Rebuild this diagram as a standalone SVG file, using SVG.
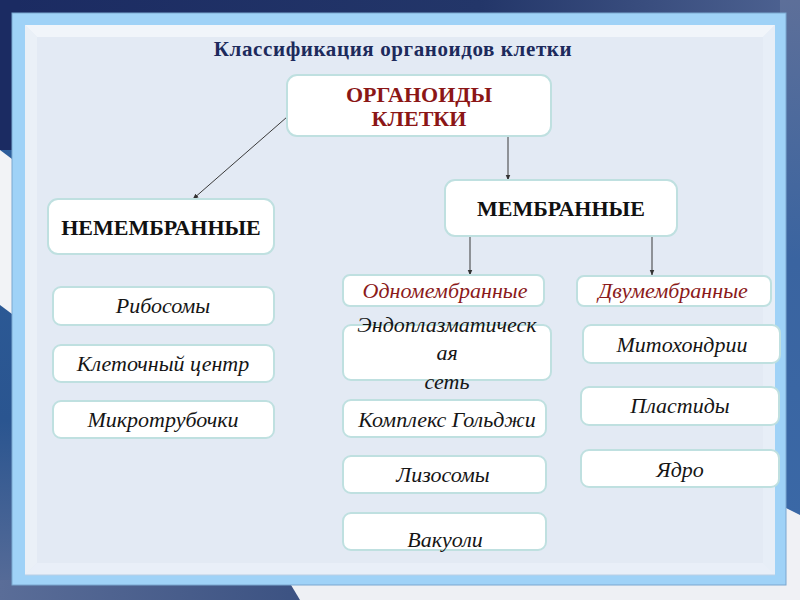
<svg xmlns="http://www.w3.org/2000/svg" width="800" height="600" viewBox="0 0 800 600">
<defs>
<linearGradient id="bgTop" x1="0" y1="0" x2="1" y2="0">
<stop offset="0" stop-color="#1b2b62"/><stop offset="0.6" stop-color="#233669"/><stop offset="1" stop-color="#4e6392"/>
</linearGradient>
<linearGradient id="bgLeft" x1="0" y1="0" x2="0" y2="1">
<stop offset="0" stop-color="#2f62a0"/><stop offset="0.7" stop-color="#2a5590"/><stop offset="1" stop-color="#5a6d98"/>
</linearGradient>
<linearGradient id="bgBottom" x1="0" y1="0" x2="1" y2="0">
<stop offset="0" stop-color="#5a6d98"/><stop offset="0.6" stop-color="#2a4275"/><stop offset="1" stop-color="#1c2e62"/>
</linearGradient>
<linearGradient id="bgRight" x1="0" y1="0" x2="0" y2="1">
<stop offset="0" stop-color="#5d6f99"/><stop offset="0.5" stop-color="#3a64a0"/><stop offset="1" stop-color="#3a68a6"/>
</linearGradient>
<marker id="arr" viewBox="0 0 10 10" refX="9" refY="5" markerWidth="6" markerHeight="6" orient="auto" markerUnits="userSpaceOnUse">
<path d="M0,1 L10,5 L0,9 z" fill="#333"/>
</marker>
<style>
.box{fill:#ffffff;stroke:#bfe0e0;stroke-width:2}
.hdr{font-family:"Liberation Serif","Times New Roman",serif;font-weight:bold;fill:#111;text-anchor:middle;font-size:22px}
.root{font-family:"Liberation Serif","Times New Roman",serif;font-weight:bold;fill:#8b1616;text-anchor:middle;font-size:22px}
.it{font-family:"Liberation Serif","Times New Roman",serif;font-style:italic;fill:#151515;text-anchor:middle;font-size:22px}
.red{fill:#8b1a1a}
.conn{stroke:#3a3a3a;stroke-width:1;fill:none;marker-end:url(#arr)}
</style>
</defs>
<!-- background -->
<rect x="0" y="0" width="800" height="600" fill="#2a5590"/>
<rect x="0" y="0" width="800" height="20" fill="url(#bgTop)"/>
<rect x="0" y="0" width="20" height="600" fill="url(#bgLeft)"/>
<rect x="0" y="0" width="20" height="150" fill="#1b2b62"/>
<path d="M0,150 L20,165 L20,320 L0,305 z" fill="#f2f3f6"/>
<rect x="0" y="580" width="800" height="20" fill="url(#bgBottom)"/>
<path d="M288,580 L800,580 L800,600 L300,600 z" fill="#eef0f4"/>
<rect x="780" y="0" width="20" height="520" fill="url(#bgRight)"/>
<path d="M780,505 L800,515 L800,600 L780,600 z" fill="#f0f1f5"/>
<!-- frame -->
<rect x="12" y="13" width="774" height="572" fill="#9fd2f7" stroke="#7ba7cf" stroke-width="1"/>
<rect x="25" y="25" width="750" height="550" fill="#e3eaf4"/>
<path d="M25,25 L775,25 L763,37 L37,37 z" fill="#f1f5fa"/>
<path d="M25,25 L37,37 L37,563 L25,575 z" fill="#eaf0f7"/>
<path d="M775,25 L775,575 L763,563 L763,37 z" fill="#e7eef7"/>
<path d="M25,575 L775,575 L763,563 L37,563 z" fill="#e9eff8"/>
<path d="M25,575 L775,575" stroke="#b9cfe6" stroke-width="1"/>
<text x="393" y="56" font-family="Liberation Serif, Times New Roman, serif" font-weight="bold" font-size="21" letter-spacing="0.6" fill="#1d2a5c" text-anchor="middle">Классификация органоидов клетки</text>
<!-- connectors -->
<g id="connectors">
<line class="conn" x1="287" y1="117" x2="193" y2="199"/>
<line class="conn" x1="508" y1="136" x2="508" y2="180"/>
<line class="conn" x1="470" y1="237" x2="470" y2="275"/>
<line class="conn" x1="652" y1="237" x2="652" y2="275"/>
</g>
<g id="root">
<rect class="box" x="287" y="75" width="264" height="61" rx="10"/>
<text class="root" x="419" y="102">ОРГАНОИДЫ</text>
<text class="root" x="419" y="126">КЛЕТКИ</text>
</g>
<g id="nonmembrane">
<rect class="box" x="48" y="199" width="226" height="55" rx="10"/>
<text class="hdr" x="161" y="235">НЕМЕМБРАННЫЕ</text>
</g>
<g id="membrane">
<rect class="box" x="445" y="180" width="232" height="56" rx="10"/>
<text class="hdr" x="561" y="216">МЕМБРАННЫЕ</text>
</g>
<g id="ribosomes">
<rect class="box" x="53" y="287" width="221" height="38" rx="8"/>
<text class="it" x="163" y="313">Рибосомы</text>
</g>
<g id="cellcenter">
<rect class="box" x="53" y="345" width="221" height="37" rx="8"/>
<text class="it" x="163" y="371">Клеточный центр</text>
</g>
<g id="microtubules">
<rect class="box" x="53" y="401" width="221" height="37" rx="8"/>
<text class="it" x="163" y="427">Микротрубочки</text>
</g>
<g id="singlemembrane">
<rect class="box" x="343" y="275" width="201" height="31" rx="7"/>
<text class="it red" x="445" y="298">Одномембранные</text>
</g>
<g id="doublemembrane">
<rect class="box" x="577" y="276" width="194" height="30" rx="7"/>
<text class="it red" x="673" y="298">Двумембранные</text>
</g>
<g id="er">
<rect class="box" x="343" y="325" width="208" height="55" rx="8"/>
<text class="it" x="447" y="332">Эндоплазматическ</text>
<text class="it" x="447" y="360">ая</text>
<text class="it" x="447" y="389">сеть</text>
</g>
<g id="golgi">
<rect class="box" x="343" y="400" width="203" height="37" rx="8"/>
<text class="it" x="447" y="427">Комплекс Гольджи</text>
</g>
<g id="lysosomes">
<rect class="box" x="343" y="456" width="203" height="37" rx="8"/>
<text class="it" x="443" y="482">Лизосомы</text>
</g>
<g id="vacuoles">
<rect class="box" x="343" y="513" width="203" height="37" rx="8"/>
<text class="it" x="445" y="547">Вакуоли</text>
</g>
<g id="mitochondria">
<rect class="box" x="583" y="325" width="197" height="38" rx="8"/>
<text class="it" x="682" y="352">Митохондрии</text>
</g>
<g id="plastids">
<rect class="box" x="581" y="387" width="198" height="38" rx="8"/>
<text class="it" x="680" y="413">Пластиды</text>
</g>
<g id="nucleus">
<rect class="box" x="581" y="450" width="198" height="37" rx="8"/>
<text class="it" x="680" y="477">Ядро</text>
</g>
</svg>
